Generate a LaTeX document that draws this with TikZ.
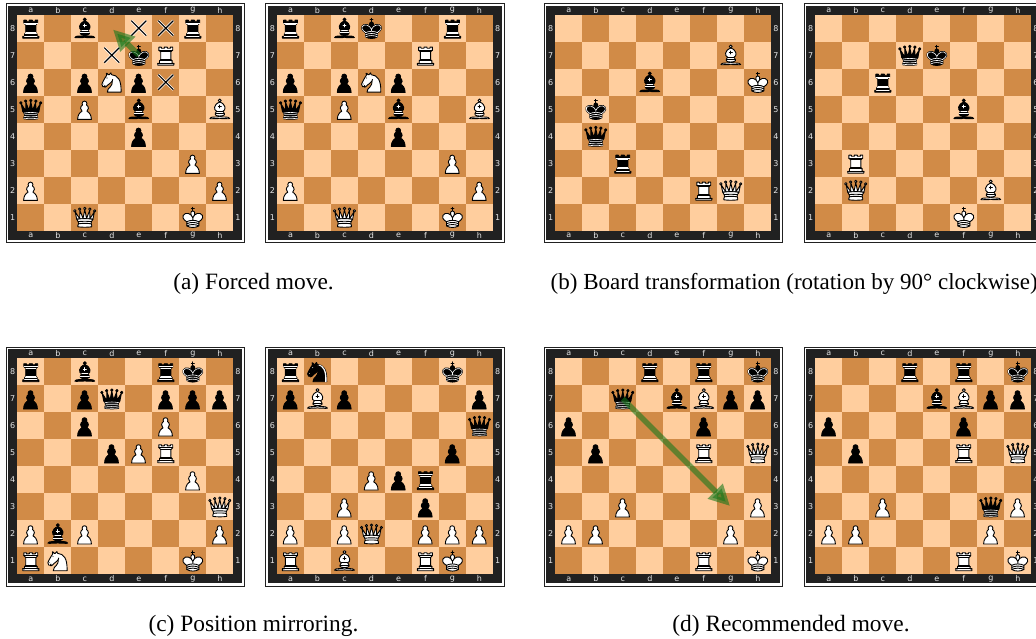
\documentclass[tikz,border=0pt]{standalone}
\usepackage{fontspec}
\setmainfont{Liberation Serif}
\newfontfamily\lblfont{DejaVu Sans}
\usetikzlibrary{arrows.meta}
\definecolor{lightsq}{HTML}{FFCE9E}
\definecolor{darksq}{HTML}{D18B47}
\definecolor{framecol}{HTML}{212121}
\definecolor{lblcol}{HTML}{E5E5E5}
\definecolor{arrowcol}{HTML}{15781B}
% --- piece outlines, in a 45 x 45 square, y downwards
\newcommand{\pawnP}{(22,9) .. controls (19.79,9) and (18,10.79) .. (18,13) .. controls (18,13.89) and (18.29,14.71) .. (18.78,15.38) .. controls (16.83,16.5) and (15.5,18.59) .. (15.5,21) .. controls (15.5,23.03) and (16.44,24.84) .. (17.91,26.03) .. controls (14.91,27.09) and (10.5,31.58) .. (10.5,39.5) -- (33.5,39.5) .. controls (33.5,31.58) and (29.09,27.09) .. (26.09,26.03) .. controls (27.56,24.84) and (28.5,23.03) .. (28.5,21) .. controls (28.5,18.59) and (27.17,16.5) .. (25.22,15.38) .. controls (25.71,14.71) and (26,13.89) .. (26,13) .. controls (26,10.79) and (24.21,9) .. (22,9) -- cycle}
\newcommand{\rookP}{(9,39) -- (36,39) -- (36,36) -- (33,36) -- (33,32) -- (32.5,32) -- (31,29.5) -- (31,17) -- (34,14) -- (34,9) -- (30,9) -- (30,11) -- (25,11) -- (25,9) -- (20,9) -- (20,11) -- (15,11) -- (15,9) -- (11,9) -- (11,14) -- (14,17) -- (14,29.5) -- (12.5,32) -- (12,32) -- (12,36) -- (9,36) -- cycle}
\newcommand{\rookL}{(9,36) -- (36,36) (12,32) -- (33,32) (14,29.5) -- (31,29.5) (14,17) -- (31,17) (11,14) -- (34,14)}
\newcommand{\bishopBase}{(9,36) .. controls (12.39,35.03) and (19.11,36.43) .. (22.5,34) .. controls (25.89,36.43) and (32.61,35.03) .. (36,36) .. controls (36,36) and (37.65,36.54) .. (39,38) .. controls (38.32,38.97) and (37.35,38.99) .. (36,38.5) .. controls (32.61,37.53) and (25.89,38.96) .. (22.5,37.5) .. controls (19.11,38.96) and (12.39,37.53) .. (9,38.5) .. controls (7.65,38.99) and (6.68,38.97) .. (6,38) .. controls (7.35,36.06) and (9,36) .. (9,36) -- cycle}
\newcommand{\bishopBody}{(15,32) .. controls (17.5,34.5) and (27.5,34.5) .. (30,32) .. controls (30.5,30.5) and (30,30) .. (30,30) .. controls (30,27.5) and (27.5,26) .. (27.5,26) .. controls (33,24.5) and (33.5,14.5) .. (22.5,10.5) .. controls (11.5,14.5) and (12,24.5) .. (17.5,26) .. controls (17.5,26) and (15,27.5) .. (15,30) .. controls (15,30) and (14.5,30.5) .. (15,32) -- cycle}
\newcommand{\bishopL}{(17.5,26) -- (27.5,26) (15,30) -- (30,30) (22.5,15.5) -- (22.5,20.5) (20,18) -- (25,18)}
\newcommand{\knightP}{(22,10) .. controls (32.5,11) and (38.5,18) .. (38,39) -- (15,39) .. controls (15,30) and (25,32.5) .. (23,18)}
\newcommand{\knightQ}{(24,18) .. controls (24.38,20.91) and (18.45,25.37) .. (16,27) .. controls (13,29) and (13.18,31.34) .. (11,31) .. controls (9.958,30.06) and (12.41,27.96) .. (11,28) .. controls (10,28) and (11.19,29.23) .. (10,30) .. controls (9,30) and (5.997,31) .. (6,26) .. controls (6,24) and (12,14) .. (12,14) .. controls (12,14) and (13.89,12.1) .. (14,10.5) .. controls (13.27,9.506) and (13.5,8.5) .. (13.5,7.5) .. controls (14.5,6.5) and (16.5,10) .. (16.5,10) -- (18.5,10) .. controls (18.5,10) and (19.28,8.008) .. (21,7) .. controls (22,7) and (22,10) .. (22,10)}
\newcommand{\knightHi}{(24.55,10.4) -- (24.1,11.85) -- (24.6,12) .. controls (27.75,13) and (30.25,14.49) .. (32.5,18.75) .. controls (34.75,23.01) and (35.75,29.06) .. (35.25,39) -- (35.2,39.5) -- (37.45,39.5) -- (37.5,39) .. controls (38,28.94) and (36.62,22.15) .. (34.25,17.66) .. controls (31.88,13.17) and (28.46,11.02) .. (25.06,10.5) -- cycle}
\newcommand{\queenCrown}{(9,26) .. controls (17.5,24.5) and (30,24.5) .. (36,26) -- (38.5,13.5) -- (31,25) -- (30.7,10.9) -- (25.5,24.5) -- (22.5,10) -- (19.5,24.5) -- (14.3,10.9) -- (14,25) -- (6.5,13.5) -- cycle}
\newcommand{\queenBody}{(9,26) .. controls (9,28) and (10.5,28) .. (11.5,30) .. controls (12.5,31.5) and (12.5,31) .. (12,33.5) .. controls (10.5,34.5) and (11,36) .. (11,36) .. controls (9.5,37.5) and (11,38.5) .. (11,38.5) .. controls (17.5,39.5) and (27.5,39.5) .. (34,38.5) .. controls (34,38.5) and (35.5,37.5) .. (34,36) .. controls (34,36) and (34.5,34.5) .. (33,33.5) .. controls (32.5,31) and (32.5,31.5) .. (33.5,30) .. controls (34.5,28) and (36,28) .. (36,26) .. controls (27.5,24.5) and (17.5,24.5) .. (9,26) -- cycle}
\newcommand{\queenBalls}{(6,12) circle[radius=2] (14,9) circle[radius=2] (22.5,8) circle[radius=2] (31,9) circle[radius=2] (39,12) circle[radius=2]}
\newcommand{\kingCross}{(22.5,11.63) -- (22.5,6) (20,8) -- (25,8)}
\newcommand{\kingHeart}{(22.5,25) .. controls (22.5,25) and (27,17.5) .. (25.5,14.5) .. controls (25.5,14.5) and (24.5,12) .. (22.5,12) .. controls (20.5,12) and (19.5,14.5) .. (19.5,14.5) .. controls (18,17.5) and (22.5,25) .. (22.5,25) -- cycle}
\newcommand{\kingBody}{(12.5,37) .. controls (18,40.5) and (27,40.5) .. (32.5,37) -- (32.5,30) .. controls (32.5,30) and (41.5,25.5) .. (38.5,19.5) .. controls (34.5,13) and (25,16) .. (22.5,23.5) -- (22.5,27) -- (22.5,23.5) .. controls (20,16) and (10.5,13) .. (6.5,19.5) .. controls (3.5,25.5) and (12.5,30) .. (12.5,30) -- cycle}
\newcommand{\kingBands}{(12.5,30) .. controls (18,27) and (27,27) .. (32.5,30) (12.5,33.5) .. controls (18,30.5) and (27,30.5) .. (32.5,33.5) (12.5,37) .. controls (18,34) and (27,34) .. (32.5,37)}
\tikzset{
  pc/.style={line width=.9pt,line join=round,line cap=round},
  wpc/.style={pc,draw=black,fill=white},
  bpc/.style={pc,draw=black,fill=black},
  wln/.style={pc,draw=black},
  bln/.style={pc,draw=white},
  wP/.pic={\draw[wpc] \pawnP;},
  bP/.pic={\draw[bpc] \pawnP;},
  wR/.pic={\draw[wpc] \rookP; \draw[wln] \rookL;},
  bR/.pic={\draw[bpc] \rookP; \draw[bln,line width=.6pt] (12,35.5) -- (33,35.5) (13,31.5) -- (32,31.5) (14,29.5) -- (31,29.5) (14,16.5) -- (31,16.5) (11,14) -- (34,14);},
  wB/.pic={\draw[wpc] \bishopBase; \draw[wpc] \bishopBody; \draw[wpc] (22.5,8) circle[radius=2.5]; \draw[wln] \bishopL;},
  bB/.pic={\draw[bpc] \bishopBase; \draw[bpc] \bishopBody; \draw[bpc] (22.5,8) circle[radius=2.5]; \draw[bln] \bishopL;},
  wN/.pic={\draw[wpc] \knightP; \draw[wpc] \knightQ; \fill[black] (9,25.5) circle[radius=.6] (14.5,15.5) circle[radius=.9];},
  bN/.pic={\draw[bpc] \knightP; \draw[bpc] \knightQ; \fill[white] (9,25.5) circle[radius=.6] (14.5,15.5) circle[radius=.9]; \fill[white] \knightHi;},
  wQ/.pic={\draw[wpc] \queenBalls; \draw[wpc] \queenCrown; \draw[wpc] \queenBody; \draw[wln] (11.5,30) .. controls (15,29) and (30,29) .. (33.5,30) (12,33.5) .. controls (18,32.5) and (27,32.5) .. (33,33.5);},
  bQ/.pic={\draw[bpc] \queenBalls; \draw[bpc] \queenCrown; \draw[bpc] \queenBody; \draw[bln,line width=.6pt] (11,29) .. controls (18,27.5) and (27,27.5) .. (34,29) (12.5,31.5) -- (32.5,31.5) (11.5,34.5) .. controls (18,35.5) and (27,35.5) .. (33.5,34.5) (10.5,37.5) .. controls (18,38.5) and (27,38.5) .. (34.5,37.5);},
  wK/.pic={\draw[wln] \kingCross; \draw[wpc] \kingHeart; \draw[wpc] \kingBody; \draw[wln] \kingBands;},
  bK/.pic={\draw[wln] \kingCross; \draw[bpc] \kingHeart; \draw[bpc] \kingBody; \draw[bln,line width=.6pt] (32,29.5) .. controls (32,29.5) and (40.5,25.5) .. (38.03,19.85) .. controls (34.15,14) and (25,18) .. (22.5,24.5) -- (22.5,26.6) -- (22.5,24.5) .. controls (20,18) and (10.85,14) .. (6.97,19.85) .. controls (4.5,25.5) and (13,29.5) .. (13,29.5) \kingBands;},
  boardline/.style={draw=framecol,line width=.8pt,fill=white},
  coordlbl/.style={text=lblcol,font=\lblfont\fontsize{8}{8}\selectfont,inner sep=0pt},
  caption/.style={font=\fontsize{23.4}{27}\selectfont,inner sep=0pt,anchor=base},
  widecaption/.style={font=\fontsize{23}{27}\selectfont,inner sep=0pt,anchor=base west},
  movearrow/.style={draw=arrowcol,opacity=.58,line width=5.6pt,-{Triangle[length=21pt,width=20pt]}},
  xhalo/.style={draw=white,line width=2.6pt},
  xline/.style={draw=black,line width=1.1pt}
}
% name, x, y of the top-left square corner, piece list
\newcommand{\chessbd}[4]{%
  \begin{scope}[shift={(#2,#3)}]
    \path[boardline] (-11.3,-11.3) rectangle (227.3,227.6);
    \fill[framecol] (-9,-9) rectangle (225,225);
    \foreach \f in {0,...,7}{\foreach \r in {0,...,7}{%
      \ifodd\numexpr\f+\r\relax
        \fill[darksq] (27*\f,27*\r) rectangle ++(27,27);
      \else
        \fill[lightsq] (27*\f,27*\r) rectangle ++(27,27);
      \fi}}
    \foreach \l [count=\i from 0] in {a,b,c,d,e,f,g,h}{%
      \node[coordlbl] (#1-top-\l) at (13.5+27*\i,-4.6) {\l};
      \node[coordlbl] (#1-bot-\l) at (13.5+27*\i,220.6) {\l};}
    \foreach \n [count=\i from 0] in {8,7,...,1}{%
      \node[coordlbl] (#1-left-\n) at (-4.6,13.5+27*\i) {\n};
      \node[coordlbl] (#1-right-\n) at (220.6,13.5+27*\i) {\n};}
    \foreach \p/\c/\r in {#4}{%
      \pgfmathsetmacro{\px}{(\c-1)*27}%
      \pgfmathsetmacro{\py}{(8-\r)*27}%
      \edef\placepiece{\noexpand\pic[scale=.6] at (\px,\py) {\p};}\placepiece}
  \end{scope}}
\newcommand{\xmark}[2]{% centre of a square, in picture coordinates
  \draw[xhalo] (#1-7.5,#2-7.5) -- (#1+7.5,#2+7.5) (#1-7.5,#2+7.5) -- (#1+7.5,#2-7.5);
  \draw[xline] (#1-7.5,#2-7.5) -- (#1+7.5,#2+7.5) (#1-7.5,#2+7.5) -- (#1+7.5,#2-7.5);}
\begin{document}
\begin{tikzpicture}[x=1pt,y=-1pt]
\clip (0,0) rectangle (1036,639);
\fill[white] (0,0) rectangle (1036,639);
\chessbd{aone}{17.3}{14.7}{bR/1/8,bB/3/8,bR/7/8,bK/5/7,wR/6/7,bP/1/6,bP/3/6,wN/4/6,bP/5/6,bQ/1/5,wP/3/5,bB/5/5,wB/8/5,bP/5/4,wP/7/3,wP/1/2,wP/8/2,wQ/3/1,wK/7/1}
\xmark{138.8}{28.2}
\xmark{165.8}{28.2}
\xmark{111.8}{55.2}
\xmark{165.8}{82.2}
\coordinate (afrom) at (138.8,55.2);
\coordinate (ato) at (113,29.5);
\draw[movearrow] (afrom) -- (ato);
\chessbd{atwo}{277}{14.7}{bR/1/8,bB/3/8,bK/4/8,bR/7/8,wR/6/7,bP/1/6,bP/3/6,wN/4/6,bP/5/6,bQ/1/5,wP/3/5,bB/5/5,wB/8/5,bP/5/4,wP/7/3,wP/1/2,wP/8/2,wQ/3/1,wK/7/1}
\chessbd{bone}{555.3}{14.7}{wB/7/7,bB/4/6,wK/8/6,bK/2/5,bQ/2/4,bR/3/3,wR/6/2,wQ/7/2}
\chessbd{btwo}{815.3}{14.7}{bQ/4/7,bK/5/7,bR/3/6,bB/6/5,wR/2/3,wQ/2/2,wB/7/2,wK/6/1}
\chessbd{cone}{17.3}{358.3}{bR/1/8,bB/3/8,bR/6/8,bK/7/8,bP/1/7,bP/3/7,bQ/4/7,bP/6/7,bP/7/7,bP/8/7,bP/3/6,wP/6/6,bP/4/5,wP/5/5,wR/6/5,wP/7/4,wQ/8/3,wP/1/2,bB/2/2,wP/3/2,wP/8/2,wR/1/1,wN/2/1,wK/7/1}
\chessbd{ctwo}{277}{358.3}{bR/1/8,bN/2/8,bK/7/8,bP/1/7,wB/2/7,bP/3/7,bP/8/7,bQ/8/6,bP/7/5,wP/4/4,bP/5/4,bR/6/4,wP/3/3,bP/6/3,wP/1/2,wP/3/2,wQ/4/2,wP/6/2,wP/7/2,wP/8/2,wR/1/1,wB/3/1,wR/6/1,wK/7/1}
\chessbd{done}{555.3}{358.3}{bR/4/8,bR/6/8,bK/8/8,bQ/3/7,bB/5/7,wB/6/7,bP/7/7,bP/8/7,bP/1/6,bP/6/6,bP/2/5,wR/6/5,wQ/8/5,wP/3/3,wP/8/3,wP/1/2,wP/2/2,wP/7/2,wR/6/1,wK/8/1}
\coordinate (dfrom) at (622.8,398.8);
\coordinate (dto) at (730,506);
\draw[movearrow] (dfrom) -- (dto);
\chessbd{dtwo}{815.3}{358.3}{bR/4/8,bR/6/8,bK/8/8,bB/5/7,wB/6/7,bP/7/7,bP/8/7,bP/1/6,bP/6/6,bP/2/5,wR/6/5,wQ/8/5,wP/3/3,bQ/7/3,wP/8/3,wP/1/2,wP/2/2,wP/7/2,wR/6/1,wK/8/1}
\node[caption] (capa) at (253.5,289) {(a) Forced move.};
\node[widecaption] (capb) at (550.5,289) {(b) Board transformation (rotation by 90° clockwise)};
\node[caption] (capc) at (253.5,631) {(c) Position mirroring.};
\node[caption] (capd) at (791,631) {(d) Recommended move.};
\end{tikzpicture}
\end{document}
